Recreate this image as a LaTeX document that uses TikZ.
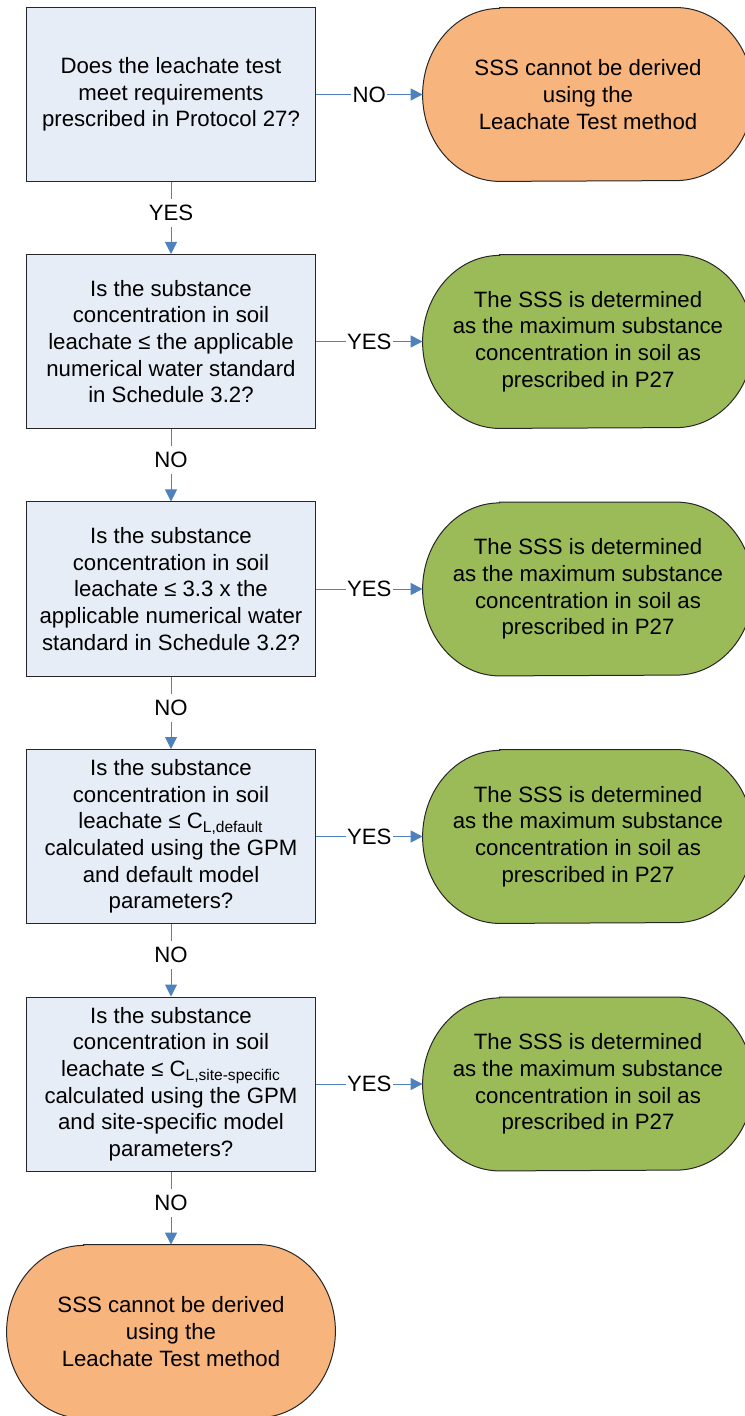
\documentclass[tikz,border=0pt]{standalone}
\usepackage{fontspec}
\setmainfont{Liberation Sans}
\usetikzlibrary{arrows.meta,backgrounds,calc}
\definecolor{boxblue}{HTML}{E7EDF7}
\definecolor{endorange}{HTML}{F8B47D}
\definecolor{endgreen}{HTML}{9BBB59}
\definecolor{arrowblue}{HTML}{4F81BD}
\definecolor{edgegray}{HTML}{262626}

\begin{document}
\begin{tikzpicture}[x=0.5pt,y=-0.5pt,font=\fontsize{11.1}{13.35}\selectfont]
    \tikzstyle{question}=[rectangle,draw=edgegray,line width=0.5pt,fill=boxblue,minimum width=144.5pt,minimum height=87pt,align=center,inner sep=0pt]
    \tikzstyle{ending}=[rectangle,minimum width=165pt,minimum height=86.5pt,align=center,inner sep=0pt]
    \tikzstyle{flow}=[arrowblue,line width=0.5pt,-{Triangle[length=6pt,width=6pt]}]
    \tikzstyle{answer}=[fill=white,text=black,inner xsep=0.6pt,inner ysep=3pt,pos=0.5]
    \tikzstyle{down}=[answer,pos=0.43]
    \useasboundingbox (0,0) rectangle (744,1416);
    \node (q1)[question] at (171,94.5)  {Does the leachate test\\meet requirements\\prescribed in Protocol 27?};
    \node (q2)[question] at (171,341.5) {Is the substance\\concentration in soil\\leachate ≤ the applicable\\numerical water standard\\in Schedule 3.2?};
    \node (q3)[question] at (171,589)   {Is the substance\\concentration in soil\\leachate ≤ 3.3 x the\\applicable numerical water\\standard in Schedule 3.2?};
    \node (q4)[question] at (171,836.5) {Is the substance\\concentration in soil\\leachate ≤ C\textsubscript{L,default}\\calculated using the GPM\\and default model\\parameters?};
    \node (q5)[question] at (171,1084)  {Is the substance\\concentration in soil\\leachate ≤ C\textsubscript{L,site-specific}\\calculated using the GPM\\and site-specific model\\parameters?};

    \node (fail1)[ending] at (588,94.5)  {SSS cannot be derived\\using the\\Leachate Test method};
    \node (pass2)[ending] at (588,341.5) {The SSS is determined\\as the maximum substance\\concentration in soil as\\prescribed in P27};
    \node (pass3)[ending] at (588,589)   {The SSS is determined\\as the maximum substance\\concentration in soil as\\prescribed in P27};
    \node (pass4)[ending] at (588,836.5) {The SSS is determined\\as the maximum substance\\concentration in soil as\\prescribed in P27};
    \node (pass5)[ending] at (588,1084)  {The SSS is determined\\as the maximum substance\\concentration in soil as\\prescribed in P27};
    \node (fail6)[ending,minimum width=164pt] at (171,1331.5) {SSS cannot be derived\\using the\\Leachate Test method};

    % rounded end shapes behind the texts
    \begin{scope}[on background layer]
    \foreach \n/\c in {fail1/endorange,pass2/endgreen,pass3/endgreen,pass4/endgreen,pass5/endgreen,fail6/endorange}
        \draw[edgegray,line width=0.5pt,fill=\c] ($(\n.north west)+(38.5pt,0pt)$) -- ($(\n.north east)+(-38.5pt,0pt)$)
            arc[start angle=90,end angle=-90,x radius=38.5pt,y radius=43.25pt]
            -- ($(\n.south west)+(38.5pt,0pt)$)
            arc[start angle=270,end angle=90,x radius=38.5pt,y radius=43.25pt] -- cycle;
    \end{scope}

    \draw[flow] (q1) -- (fail1) node[answer] {NO};
    \draw[flow] (q1) -- (q2)    node[down] {YES};
    \draw[flow] (q2) -- (pass2) node[answer] {YES};
    \draw[flow] (q2) -- (q3)    node[down] {NO};
    \draw[flow] (q3) -- (pass3) node[answer] {YES};
    \draw[flow] (q3) -- (q4)    node[down] {NO};
    \draw[flow] (q4) -- (pass4) node[answer] {YES};
    \draw[flow] (q4) -- (q5)    node[down] {NO};
    \draw[flow] (q5) -- (pass5) node[answer] {YES};
    \draw[flow] (q5) -- (fail6) node[down] {NO};
\end{tikzpicture}
\end{document}
